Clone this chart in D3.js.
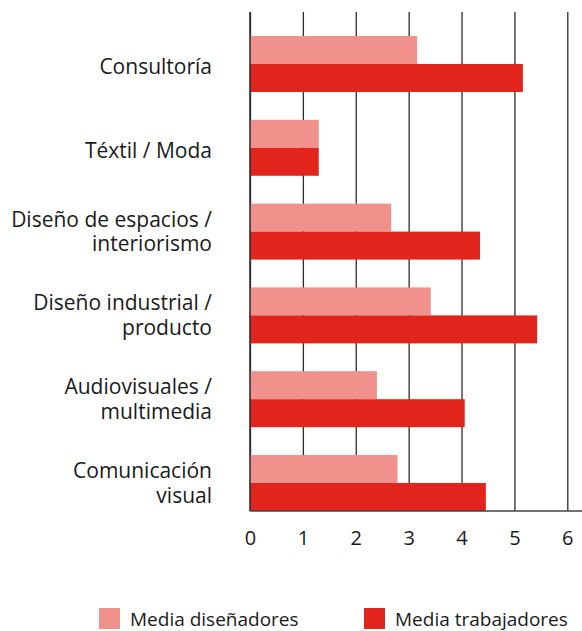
<!DOCTYPE html>
<meta charset="utf-8">
<style>
body { margin: 0; background: #fff; }
text { font-family: "Open Sans", sans-serif; fill: #1a1a1a; }
</style>
<body>
<script src="https://d3js.org/d3.v7.min.js"></script>
<script>

var w = 582;
var h = 631;

// categories (line breaks as in the original)
var categories = [
    "Consultoría",
    "Téxtil / Moda",
    "Diseño de espacios /\ninteriorismo",
    "Diseño industrial /\nproducto",
    "Audiovisuales /\nmultimedia",
    "Comunicación\nvisual"
];
var diseñadores = [3.16, 1.30, 2.67, 3.42, 2.40, 2.79];
var trabajadores = [5.16, 1.30, 4.35, 5.43, 4.06, 4.46];
var xTicks = [0, 1, 2, 3, 4, 5, 6];
var seriesNames = ["Media diseñadores", "Media trabajadores"];
var colors = ["#f0928b", "#e2251c"];

var plotLeft = 250, plotRight = 567.3, plotTop = 12, plotBottom = 511;

var svg = d3.select("body")
    .append("svg")
    .attr("width", w)
    .attr("height", h);

var x = d3.scaleLinear()
    .domain([0, 6])
    .range([plotLeft, plotRight]);

var y = d3.scaleBand()
    .domain(categories)
    .range([36, plotBottom])
    .paddingInner(0.332)
    .paddingOuter(0);

var sub = d3.scaleBand()
    .domain([0, 1])
    .range([0, y.bandwidth()]);

// grid + tick labels
var xAxis = d3.axisBottom(x)
    .tickValues(xTicks)
    .tickFormat(d3.format("d"))
    .tickSizeInner(-(plotBottom - plotTop))
    .tickSizeOuter(0)
    .tickPadding(20);

var gx = svg.append("g")
    .attr("transform", "translate(0," + plotBottom + ")")
    .call(xAxis);
gx.select(".domain").remove();
gx.selectAll("line").attr("stroke", "#2b2b2b").attr("stroke-width", 1.3);
gx.selectAll("text")
    .attr("font-family", "'Open Sans', sans-serif")
    .attr("font-size", "20px")
    .attr("fill", "#1a1a1a");

// bars
var rows = categories.map(function(c, i) {
    return { cat: c, vals: [diseñadores[i], trabajadores[i]] };
});

var groups = svg.selectAll(".grp")
    .data(rows)
    .enter()
    .append("g")
    .attr("class", "grp")
    .attr("transform", function(d) { return "translate(0," + y(d.cat) + ")"; });

groups.selectAll("rect")
    .data(function(d) { return d.vals; })
    .enter()
    .append("rect")
    .attr("x", x(0))
    .attr("y", function(d, i) { return sub(i); })
    .attr("width", function(d) { return x(d) - x(0); })
    .attr("height", sub.bandwidth())
    .attr("fill", function(d, i) { return colors[i]; });

// zero line and bottom line on top of bars
svg.append("line")
    .attr("x1", x(0)).attr("x2", x(0))
    .attr("y1", plotTop).attr("y2", plotBottom)
    .attr("stroke", "#2b2b2b").attr("stroke-width", 1.5);
svg.append("line")
    .attr("x1", x(0)).attr("x2", w)
    .attr("y1", plotBottom).attr("y2", plotBottom)
    .attr("stroke", "#444").attr("stroke-width", 1.3);

// category labels
groups.each(function(d) {
    var lines = d.cat.split("\n");
    var c = y.bandwidth() / 2;
    var t = d3.select(this).append("text")
        .attr("text-anchor", "end")
        .attr("font-size", "21px");
    lines.forEach(function(l, j) {
        t.append("tspan")
            .attr("x", 212)
            .attr("y", lines.length == 1 ? c + 10 : c - 5 + j * 24.5)
            .text(l);
    });
});

// legend
var legX = [99, 364];
var leg = svg.selectAll(".leg")
    .data(seriesNames)
    .enter()
    .append("g")
    .attr("class", "leg")
    .attr("transform", function(d, i) { return "translate(" + legX[i] + ",608)"; });
leg.append("rect")
    .attr("width", 21)
    .attr("height", 21)
    .attr("fill", function(d, i) { return colors[i]; });
leg.append("text")
    .attr("x", 31)
    .attr("y", 18)
    .attr("font-size", "19px")
    .text(function(d) { return d; });

</script>
</body>
